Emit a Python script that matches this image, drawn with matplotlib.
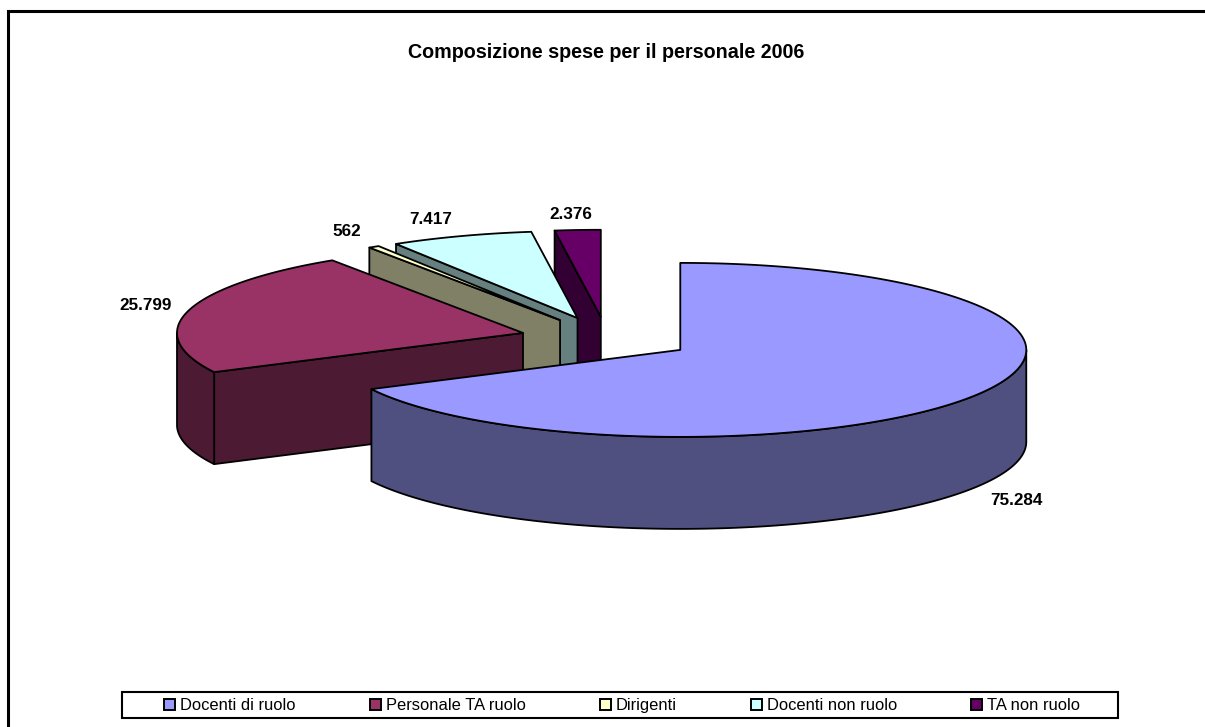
import matplotlib
matplotlib.use("Agg")
import matplotlib.pyplot as plt
import numpy as np
from matplotlib.patches import Patch, Polygon, Rectangle

plt.rcParams["font.family"] = ["Liberation Sans", "DejaVu Sans"]

# data
categories = ["Docenti di ruolo", "Personale TA ruolo", "Dirigenti", "Docenti non ruolo", "TA non ruolo"]
values = [75284, 25799, 562, 7417, 2376]
top_colors = ["#9999FF", "#993366", "#FFFFCC", "#CCFFFF", "#660066"]
side_colors = ["#4F4F80", "#4C1A33", "#808066", "#668080", "#330033"]
title = "Composizione spese per il personale 2006"

# pie geometry, in pixels of the figure
CX, CY = 606.6, 338.5
RX, RY = 346, 87
DEPTH = 92
EXPLODE = 0.25
LW = 1.3

label_xy = [(1016, 500.5), (146, 305.5), (347, 231.5), (431, 219.5), (571, 214.5)]


def rim(cx, cy, a0, a1, drop=0.0):
    t = np.radians(np.linspace(a0, a1, max(2, int(abs(a1 - a0)) * 2)))
    return np.column_stack([cx + RX * np.sin(t), cy - RY * np.cos(t) + drop])


def add_poly(ax, pts, color):
    ax.add_patch(Polygon(pts, closed=True, facecolor=color, edgecolor="black",
                         linewidth=LW, joinstyle="round"))


def draw_slice(ax, a0, a1, top, side):
    mid = np.radians((a0 + a1) / 2)
    cx = CX + EXPLODE * RX * np.sin(mid)
    cy = CY - EXPLODE * RY * np.cos(mid)

    # radial walls that face the viewer
    for a, visible in ((a0, np.sin(np.radians(a0)) < -1e-9), (a1, np.sin(np.radians(a1)) > 1e-9)):
        if visible:
            e = rim(cx, cy, a, a)[0]
            add_poly(ax, [(cx, cy), e, (e[0], e[1] + DEPTH), (cx, cy + DEPTH)], side)

    # outer wall, front half of the ellipse only
    w0, w1 = max(a0, 90), min(a1, 270)
    if w1 > w0:
        upper = rim(cx, cy, w0, w1)
        lower = rim(cx, cy, w0, w1, DEPTH)
        add_poly(ax, np.vstack([upper, lower[::-1]]), side)

    add_poly(ax, np.vstack([[(cx, cy)], rim(cx, cy, a0, a1)]), top)


fig = plt.figure(figsize=(12.05, 7.27), dpi=100, facecolor="white")
ax = fig.add_axes([0, 0, 1, 1])
ax.set_xlim(0, 1205)
ax.set_ylim(727, 0)
ax.axis("off")

# chart frame runs off the right and bottom of the picture
ax.add_patch(Rectangle((7.5, 10.5), 1300, 800, facecolor="white", edgecolor="black", linewidth=2.2))

angles = np.concatenate([[0], np.cumsum(values) / np.sum(values) * 360])
for i in reversed(range(len(values))):
    draw_slice(ax, angles[i], angles[i + 1], top_colors[i], side_colors[i])

for (x, y), v in zip(label_xy, values):
    ax.text(x, y, f"{v:,}".replace(",", "."), ha="center", va="center",
            fontsize=12.3, fontweight="bold", color="black")

ax.text(606, 53, title, ha="center", va="center", fontsize=14.2, fontweight="bold")

# legend box is much wider than its entries, so it is drawn on its own
ax.add_patch(Rectangle((122, 691.5), 996, 26, facecolor="white", edgecolor="black", linewidth=1.5))
handles = [Patch(facecolor=c, edgecolor="black", linewidth=1.4) for c in top_colors]
ax.legend(handles, categories, ncol=5, loc="center", bbox_to_anchor=(622, 705.5),
          bbox_transform=ax.transData, fontsize=11.85, frameon=False,
          handlelength=0.67, handleheight=0.67, handletextpad=0.3,
          columnspacing=4.5, borderpad=0, borderaxespad=0)

fig.savefig("out.png", dpi=100)
